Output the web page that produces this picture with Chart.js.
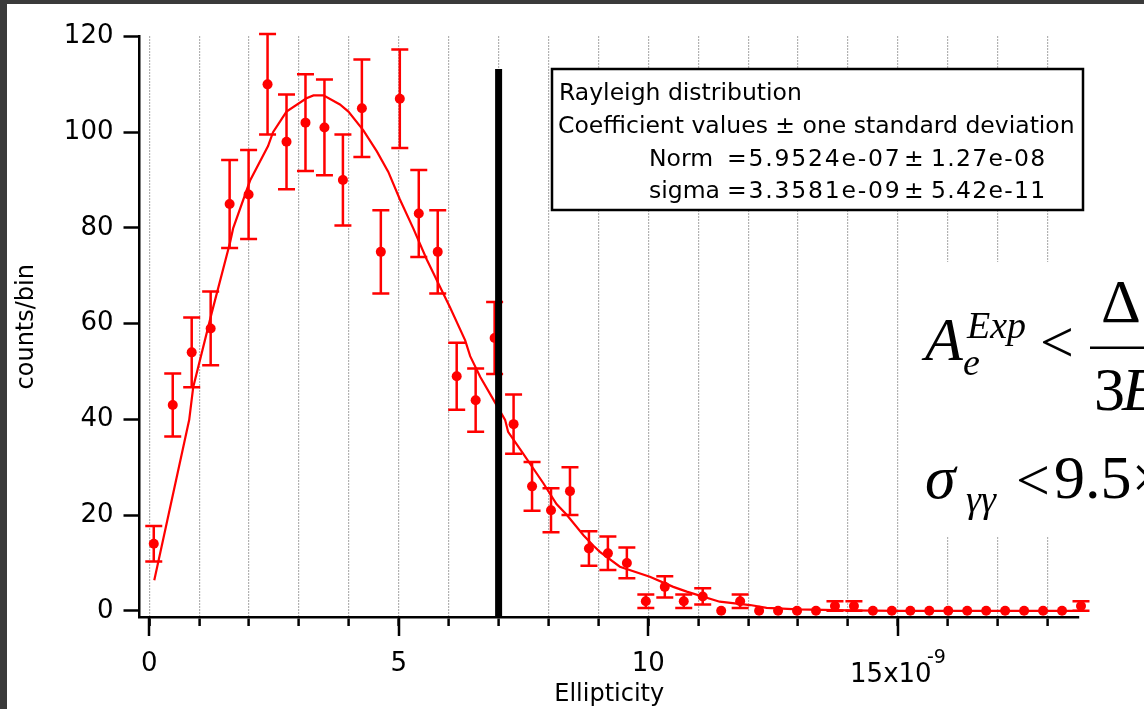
<!DOCTYPE html>
<html><head><meta charset="utf-8">
<script src="https://cdn.jsdelivr.net/npm/chart.js@4.4.1/dist/chart.umd.min.js"></script>
<style>html,body{margin:0;padding:0;background:#fff;}#wrap{position:relative;width:1144px;height:709px;}</style>
</head><body><div id="wrap"><canvas id="c" width="1144" height="709"></canvas></div>
<script>
// ---- data (ellipticity in units of 1e-9) ----
const binCenters = [0.09,0.47,0.85,1.23,1.61,1.99,2.37,2.75,3.13,3.51,3.88,4.26,4.64,5.02,5.40,5.78,6.16,6.54,6.92,7.30,7.67,8.05,8.43,8.81,9.19,9.57,9.95,10.33,10.71,11.09,11.46,11.84,12.22,12.60,12.98,13.36,13.74,14.12,14.50,14.88,15.25,15.63,16.01,16.39,16.77,17.15,17.53,17.91,18.29,18.67];
const counts = [14,43,54,59,85,87,110,98,102,101,90,105,75,107,83,75,49,44,57,39,26,21,25,13,12,10,2,5,2,3,0,2,0,0,0,0,1,1,0,0,0,0,0,0,0,0,0,0,0,1];
const countErrors = [3.7,6.6,7.3,7.7,9.2,9.3,10.5,9.9,10.1,10.0,9.5,10.2,8.7,10.3,9.1,8.7,7.0,6.6,7.5,6.2,5.1,4.6,5.0,3.6,3.5,3.2,1.4,2.2,1.4,1.7,0,1.4,0,0,0,0,1,1,0,0,0,0,0,0,0,0,0,0,0,1];
const fitX = [0.10,0.80,0.88,1.25,1.62,1.68,2.02,2.38,2.48,2.75,3.15,3.29,3.49,3.82,3.99,4.29,4.56,4.79,5.02,5.29,5.56,5.83,6.03,6.33,6.43,6.63,6.93,7.13,7.19,7.43,7.90,8.16,8.36,8.70,8.90,9.03,9.43,10.03,10.50,10.77,11.43,12.04,12.37,13.00,14.00,15.00,18.67];
const fitY = [6.4,39.9,46.7,62.2,77.0,79.9,89.9,97.1,100.0,104.3,107.1,107.7,107.7,105.8,104.3,100.4,96.0,91.7,86.0,79.9,73.4,67.6,63.3,56.5,53.2,48.9,43.5,39.9,37.4,33.8,26.6,22.3,20.1,15.8,13.6,12.3,9.2,7.1,5.0,4.0,1.9,1.2,0.6,0.3,0.1,0.0,0.0];
const cutX = [7, 7];
const cutY = [113.2, -1.3];
const xTicks = [0,1,2,3,4,5,6,7,8,9,10,11,12,13,14,15,16,17,18];
const xMajorTicks = [0,5,10,15];
const xTickLabels = {0:'0', 5:'5', 10:'10'};
const xExpLabel = ['15x10', '-9'];
const yTicks = [0,20,40,60,80,100,120];
const xTitle = 'Ellipticity';
const yTitle = 'counts/bin';
const boxLines = ['Rayleigh distribution', 'Coefficient values \u00b1 one standard deviation'];
const coefNames = ['Norm', 'sigma'];
const coefValues = ['=5.9524e-07', '=3.3581e-09'];
const coefErrors = ['1.27e-08', '5.42e-11'];

const SANS = "'DejaVu Sans', sans-serif";
const SERIF = "'Liberation Serif', serif";

const overlay = {
  id: 'overlay',
  beforeDraw(chart) {
    const ctx = chart.ctx;
    ctx.save();
    ctx.fillStyle = '#fff';
    ctx.fillRect(0, 0, 1144, 709);
    ctx.fillStyle = '#3a3a3a';
    ctx.fillRect(0, 0, 1144, 4);
    ctx.fillRect(0, 0, 7, 709);
    ctx.restore();
  },
  beforeDatasetsDraw(chart) {
    const ctx = chart.ctx, xs = chart.scales.x, ys = chart.scales.y;
    ctx.save();
    ctx.strokeStyle = '#ff0000';
    ctx.lineWidth = 2.5;
    for (let i = 0; i < binCenters.length; i++) {
      const e = countErrors[i];
      if (!e) continue;
      const px = xs.getPixelForValue(binCenters[i]);
      const t = ys.getPixelForValue(counts[i] + e);
      const b = ys.getPixelForValue(counts[i] - e);
      ctx.beginPath();
      ctx.moveTo(px, t); ctx.lineTo(px, b);
      ctx.moveTo(px - 8.5, t); ctx.lineTo(px + 8.5, t);
      ctx.moveTo(px - 8.5, b); ctx.lineTo(px + 8.5, b);
      ctx.stroke();
    }
    ctx.restore();
  },
  afterDraw(chart) {
    const ctx = chart.ctx, xs = chart.scales.x;
    const bottom = chart.chartArea.bottom;
    ctx.save();
    // major tick extensions
    ctx.strokeStyle = '#000';
    ctx.lineWidth = 2.5;
    xMajorTicks.forEach(v => {
      const px = Math.round(xs.getPixelForValue(v));
      ctx.beginPath(); ctx.moveTo(px, bottom); ctx.lineTo(px, bottom + 19); ctx.stroke();
    });
    // exponent label
    ctx.fillStyle = '#000';
    ctx.textBaseline = 'alphabetic';
    ctx.font = '26px ' + SANS;
    ctx.textAlign = 'center';
    ctx.fillText(xExpLabel[0], xs.getPixelForValue(15) - 7, 681.5);
    ctx.textAlign = 'left';
    ctx.font = '19px ' + SANS;
    ctx.fillText(xExpLabel[1], 927, 663);

    // coefficient box
    ctx.fillStyle = '#fff';
    ctx.fillRect(552, 69, 531, 141);
    ctx.strokeStyle = '#000';
    ctx.lineWidth = 2.5;
    ctx.strokeRect(552, 69, 531, 141);
    ctx.fillStyle = '#000';
    ctx.font = '23.5px ' + SANS;
    ctx.textAlign = 'left';
    ctx.fillText(boxLines[0], 559, 100);
    ctx.fillText(boxLines[1], 558, 132.7);
    const rows = [165.5, 198];
    for (let k = 0; k < 2; k++) {
      ctx.letterSpacing = '0px';
      ctx.fillText(coefNames[k], 649, rows[k]);
      ctx.letterSpacing = '1.8px';
      ctx.fillText(coefValues[k], 727, rows[k]);
      ctx.letterSpacing = '0px';
      ctx.fillText('\u00b1', 904, rows[k]);
      ctx.letterSpacing = '1.3px';
      ctx.fillText(coefErrors[k], 931, rows[k]);
    }
    ctx.letterSpacing = '0px';

    // equation overlay
    ctx.fillStyle = '#fff';
    ctx.fillRect(905, 262, 239, 274);
    ctx.fillStyle = '#000';
    ctx.font = 'italic 62px ' + SERIF;
    ctx.fillText('A', 925, 360);
    ctx.font = 'italic 38px ' + SERIF;
    ctx.fillText('Exp', 967, 338);
    ctx.fillText('e', 963, 375);
    ctx.font = '60px ' + SERIF;
    ctx.fillText('<', 1040, 362);
    ctx.fillRect(1090, 346.5, 60, 2.5);
    ctx.font = '62px ' + SERIF;
    ctx.fillText('\u0394', 1101, 322);
    ctx.fillText('3', 1094, 410);
    ctx.font = 'italic 62px ' + SERIF;
    ctx.fillText('E', 1122, 410);
    ctx.font = 'italic 62px ' + SERIF;
    ctx.fillText('\u03c3', 925, 498);
    ctx.font = 'italic 38px ' + SERIF;
    ctx.fillText('\u03b3\u03b3', 966, 512);
    ctx.font = '60px ' + SERIF;
    ctx.fillText('<', 1016, 500);
    ctx.font = '62px ' + SERIF;
    ctx.fillText('9.5\u00d7', 1054, 498);
    ctx.restore();
  }
};

const toPts = (xa, ya) => xa.map((x, i) => ({x: x, y: ya[i]}));

new Chart(document.getElementById('c'), {
  type: 'scatter',
  data: {
    datasets: [
      { label: 'cut', data: toPts(cutX, cutY), showLine: true, borderColor: '#000', borderWidth: 7,
        pointRadius: 0, order: 0, clip: false, borderCapStyle: 'butt' },
      { label: 'counts', data: toPts(binCenters, counts), showLine: false, pointRadius: 5,
        pointBackgroundColor: '#ff0000', pointBorderWidth: 0, pointBorderColor: '#ff0000', order: 1, clip: false },
      { label: 'fit', data: toPts(fitX, fitY), showLine: true, borderColor: '#ff0000', borderWidth: 2.2,
        pointRadius: 0, order: 2, clip: false, tension: 0 }
    ]
  },
  options: {
    responsive: false, animation: false, devicePixelRatio: 1,
    layout: { padding: { left: 0, top: 36.5, right: 65, bottom: 0 } },
    plugins: { legend: { display: false }, tooltip: { enabled: false } },
    scales: {
      x: {
        type: 'linear', min: -0.196, max: 18.63,
        afterBuildTicks: s => { s.ticks = xTicks.map(v => ({value: v})); },
        afterFit: s => { s.height = 92; },
        grid: { display: true, drawOnChartArea: true, drawTicks: true, tickLength: 9, color: '#666', lineWidth: 1.2,
                tickColor: '#000', tickWidth: 2.5 },
        border: { display: true, color: '#000', width: 2.5, dash: [1, 2] },
        ticks: { autoSkip: false, maxRotation: 0, padding: 23, color: '#000', font: { family: SANS, size: 26 },
                 callback: v => (xTickLabels[v] !== undefined ? xTickLabels[v] : '') },
        title: { display: true, text: xTitle, color: '#000', font: { family: SANS, size: 24 }, padding: { top: 0, bottom: 0 } }
      },
      y: {
        type: 'linear', min: -1.3, max: 120,
        afterBuildTicks: s => { s.ticks = yTicks.map(v => ({value: v})); },
        afterFit: s => { s.width = 139.5; },
        grid: { display: true, drawOnChartArea: false, drawTicks: true, tickLength: 16, tickColor: '#000', tickWidth: 2.5 },
        border: { display: true, color: '#000', width: 2.5 },
        ticks: { padding: 10, color: '#000', font: { family: SANS, size: 26 } },
        title: { display: true, text: yTitle, color: '#000', font: { family: SANS, size: 24 }, padding: { top: 12, bottom: 0 } }
      }
    }
  },
  plugins: [overlay]
});
</script>
</body></html>
